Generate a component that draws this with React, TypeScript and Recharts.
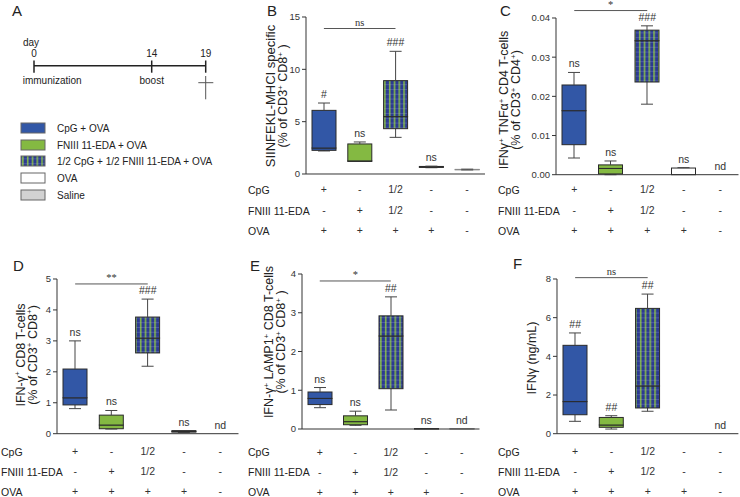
import React from 'react';
import { ComposedChart, Bar, Scatter, XAxis, YAxis, ReferenceLine } from 'recharts';

const FONT = "'Liberation Sans', Arial, sans-serif";

// groups along every x axis
const groups = ['g1', 'g2', 'g3', 'g4', 'g5'];
const cpgRow = ['+', '-', '1/2', '-', '-'];
const fnRow = ['-', '+', '1/2', '-', '-'];
const ovaRow = ['+', '+', '+', '+', '-'];

const legendLabels = ['CpG + OVA', 'FNIII 11-EDA + OVA', '1/2 CpG + 1/2 FNIII 11-EDA + OVA', 'OVA', 'Saline'];
const groupFills = ['#3257a6', '#84b942', 'url(#stripes)', '#ffffff', '#d2d2d2'];
const groupStrokes = ['#2a2a2a', '#2a2a2a', '#2a2a2a', '#2a2a2a', '#8a8a8a'];

// five-number summaries [min, q1, median, q3, max], null = nothing measured
const boxB = [[2.2, 2.26, 2.48, 6.08, 6.78], [1.2, 1.2, 1.25, 2.87, 3.06], [3.5, 4.33, 5.48, 8.92, 11.72], [0.6, 0.63, 0.67, 0.72, 0.75], [0.38, 0.4, 0.42, 0.44, 0.46]];
const annB = ['#', 'ns', '###', 'ns', ''];
const boxC = [[0.00426, 0.00766, 0.01634, 0.0229, 0.0261], [0, 0.0002, 0.0016, 0.0025, 0.0035], [0.018, 0.02366, 0.0342, 0.0369, 0.038], [0, 0, 0, 0.0017, 0.0018], null];
const annC = ['ns', 'ns', '###', 'ns', 'nd'];
const boxD = [[0.81, 0.93, 1.16, 2.09, 3.0], [0.15, 0.16, 0.28, 0.6, 0.75], [2.18, 2.61, 3.09, 3.77, 4.35], [0.04, 0.05, 0.07, 0.1, 0.1], null];
const annD = ['ns', 'ns', '###', 'ns', 'nd'];
const boxE = [[0.55, 0.63, 0.79, 0.955, 1.07], [0.095, 0.11, 0.19, 0.34, 0.46], [0.49, 1.04, 2.4, 2.92, 3.41], [0, 0, 0.005, 0.01, 0.01], [0, 0, 0.005, 0.01, 0.01]];
const annE = ['ns', 'ns', '##', 'ns', 'nd'];
const boxF = [[0.64, 0.98, 1.66, 4.57, 5.21], [0.24, 0.33, 0.45, 0.84, 0.93], [1.16, 1.33, 2.47, 6.48, 7.22], null, null];
const annF = ['##', '##', '##', '', 'nd'];

const ticksB = [0, 5, 10, 15];
const ticksC = [0, 0.01, 0.02, 0.03, 0.04];
const ticksD = [0, 1, 2, 3, 4, 5];
const ticksE = [0, 1, 2, 3, 4];
const ticksF = [0, 2, 4, 6, 8];

const topRows = [190, 211, 231];
const bottomRows = [452, 472, 492];

const Whisker = (end: 'top' | 'bottom') => (props: any) => {
  const { x, y, width, height } = props;
  if (height == null || !(height > 0.05)) return <g />;
  const cx = x + width / 2;
  const capY = end === 'top' ? y : y + height;
  return (
    <g>
      <line x1={cx} x2={cx} y1={y} y2={y + height} stroke="#444" strokeWidth={1} />
      <line x1={cx - 6} x2={cx + 6} y1={capY} y2={capY} stroke="#444" strokeWidth={1} />
    </g>
  );
};

const BoxPart = (props: any) => {
  const { x, y, width, height, payload } = props;
  if (height == null || !(height > 0)) return <g />;
  return <rect x={x} y={y} width={width} height={height} fill={payload.fill} stroke={payload.stroke} strokeWidth={1} />;
};

const AnnShape = (props: any) => {
  const { cx, cy, payload } = props;
  if (!payload.ann || cx == null || cy == null || isNaN(cy)) return <g />;
  return (
    <text x={cx} y={cy - 5} textAnchor="middle" fontSize={10.5} fill="#333" fontFamily={FONT}>
      {payload.ann}
    </text>
  );
};

function rich(str: string) {
  const parts = str.split('^+');
  const out: React.ReactNode[] = [];
  parts.forEach((p, i) => {
    out.push(<tspan key={'t' + i} dy={i > 0 ? 3.5 : 0}>{p}</tspan>);
    if (i < parts.length - 1) out.push(<tspan key={'s' + i} dy={-3.5} fontSize={8}>+</tspan>);
  });
  return out;
}

type PanelProps = {
  boxes: (number[] | null)[];
  ann: string[];
  domain: [number, number];
  ticks: number[];
  fmt?: (v: number) => string;
  plot: { l: number; r: number; t: number; b: number };
  rows: number[];
  bracket: { y: number; text: string };
};

function BoxPanel({ boxes, ann, domain, ticks, fmt, plot, rows, bracket }: PanelProps) {
  const yw = 40;
  const mt = 24;
  const mr = 4;
  const left = plot.l - yw;
  const top = plot.t - mt;
  const width = plot.r - left + mr;
  const bottomAbs = rows[2] + 9;
  const height = bottomAbs - top;
  const xh = bottomAbs - plot.b;
  const rowsRel = rows.map((r) => r - top);

  const data = groups.map((g, i) => {
    const s = boxes[i];
    const common = { g, ann: ann[i], fill: groupFills[i], stroke: groupStrokes[i] };
    if (!s) return { ...common, base: 0, wLo: 0, bLo: 0, bHi: 0, wHi: 0, annY: ann[i] ? 0 : null };
    return { ...common, base: s[0], wLo: s[1] - s[0], bLo: s[2] - s[1], bHi: s[3] - s[2], wHi: s[4] - s[3], annY: s[4] };
  });

  const RowTick = (props: any) => {
    const { x, payload } = props;
    const i = groups.indexOf(payload.value);
    return (
      <g>
        {[cpgRow, fnRow, ovaRow].map((r, k) => (
          <text key={k} x={x} y={rowsRel[k]} textAnchor="middle" dominantBaseline="central" fontSize={10.5} fill="#333" fontFamily={FONT}>
            {r[i]}
          </text>
        ))}
      </g>
    );
  };

  return (
    <div style={{ position: 'absolute', left, top, width, height }}>
      <ComposedChart width={width} height={height} data={data} margin={{ top: mt, right: mr, bottom: 0, left: 0 }}>
        <XAxis dataKey="g" type="category" interval={0} height={xh} tickLine={false} axisLine={{ stroke: '#333' }} tick={<RowTick />} />
        <YAxis
          type="number"
          domain={domain}
          ticks={ticks}
          width={yw}
          tickSize={4}
          tickLine={{ stroke: '#333' }}
          axisLine={{ stroke: '#333' }}
          tick={{ fontSize: 9.5, fill: '#333', fontFamily: FONT }}
          tickFormatter={fmt}
        />
        <Bar dataKey="base" stackId="box" barSize={24} fill="none" shape={() => <g />} isAnimationActive={false} />
        <Bar dataKey="wLo" stackId="box" barSize={24} shape={Whisker('bottom')} isAnimationActive={false} />
        <Bar dataKey="bLo" stackId="box" barSize={24} shape={BoxPart} isAnimationActive={false} />
        <Bar dataKey="bHi" stackId="box" barSize={24} shape={BoxPart} isAnimationActive={false} />
        <Bar dataKey="wHi" stackId="box" barSize={24} shape={Whisker('top')} isAnimationActive={false} />
        <Scatter dataKey="annY" shape={AnnShape} isAnimationActive={false} />
        <ReferenceLine
          segment={[{ x: 'g1', y: bracket.y }, { x: 'g3', y: bracket.y }]}
          stroke="#555"
          ifOverflow="visible"
          label={{ value: bracket.text, position: 'top', fontSize: 10.5, fill: '#333', offset: 3 }}
        />
      </ComposedChart>
    </div>
  );
}

const rowNames = ['CpG', 'FNIII 11-EDA', 'OVA'];

export default function App() {
  const txt = { fontFamily: FONT, fill: '#222' } as const;
  const rowLabels = (x: number, rows: number[]) =>
    rowNames.map((n, k) => (
      <text key={n + x + rows[k]} x={x} y={rows[k]} dominantBaseline="central" fontSize={10.5} {...txt}>
        {n}
      </text>
    ));
  const yTitle = (x: number, cy: number, s: string, fs = 12.5) => (
    <text x={x} y={cy} transform={`rotate(-90 ${x} ${cy})`} textAnchor="middle" dominantBaseline="middle" fontSize={fs} {...txt}>
      {rich(s)}
    </text>
  );
  const legendTops = [123, 140, 156, 173, 190];

  return (
    <div style={{ position: 'absolute', left: 0, top: 0, width: 740, height: 497, overflow: 'hidden', background: '#fff' }}>
      <BoxPanel boxes={boxB} ann={annB} domain={[0, 15]} ticks={ticksB} plot={{ l: 306, r: 485, t: 17.3, b: 174.3 }} rows={topRows} bracket={{ y: 13.9, text: 'ns' }} />
      <BoxPanel boxes={boxC} ann={annC} domain={[0, 0.04]} ticks={ticksC} fmt={(v) => v.toFixed(2)} plot={{ l: 556, r: 738.5, t: 18.3, b: 175 }} rows={topRows} bracket={{ y: 0.0419, text: '*' }} />
      <BoxPanel boxes={boxD} ann={annD} domain={[0, 5]} ticks={ticksD} plot={{ l: 56.5, r: 238, t: 279.3, b: 434 }} rows={bottomRows} bracket={{ y: 4.84, text: '**' }} />
      <BoxPanel boxes={boxE} ann={annE} domain={[0, 4]} ticks={ticksE} plot={{ l: 301.5, r: 479, t: 274, b: 429 }} rows={bottomRows} bracket={{ y: 3.82, text: '*' }} />
      <BoxPanel boxes={boxF} ann={annF} domain={[0, 8]} ticks={ticksF} plot={{ l: 556.6, r: 738, t: 279.3, b: 434 }} rows={bottomRows} bracket={{ y: 8.07, text: 'ns' }} />

      <svg width={740} height={497} style={{ position: 'absolute', left: 0, top: 0, pointerEvents: 'none' }}>
        <defs>
          <pattern id="stripes" patternUnits="userSpaceOnUse" width={4.8} height={4.8}>
            <rect x={0} y={0} width={4.8} height={4.8} fill="#2c3a92" />
            <rect x={3} y={0} width={1.4} height={4.8} fill="#8cc63f" />
            <rect x={0} y={0} width={4.8} height={0.7} fill="#aab0d8" opacity={0.35} />
          </pattern>
        </defs>

        {/* panel letters */}
        <text x={12} y={16} fontSize={15} {...txt}>A</text>
        <text x={267} y={16} fontSize={15} {...txt}>B</text>
        <text x={500} y={16} fontSize={15} {...txt}>C</text>
        <text x={13} y={271} fontSize={15} {...txt}>D</text>
        <text x={250} y={271} fontSize={15} {...txt}>E</text>
        <text x={513} y={269} fontSize={15} {...txt}>F</text>

        {/* timeline */}
        <text x={23} y={42} fontSize={10} dominantBaseline="central" {...txt}>day</text>
        <text x={34} y={53} fontSize={10} textAnchor="middle" dominantBaseline="central" {...txt}>0</text>
        <text x={151.7} y={53} fontSize={10} textAnchor="middle" dominantBaseline="central" {...txt}>14</text>
        <text x={205.7} y={53} fontSize={10} textAnchor="middle" dominantBaseline="central" {...txt}>19</text>
        <line x1={34} x2={205.7} y1={65.7} y2={65.7} stroke="#222" strokeWidth={1.5} />
        {[34, 151.7, 205.7].map((x) => (
          <line key={x} x1={x} x2={x} y1={60.5} y2={72.7} stroke="#222" strokeWidth={1.5} />
        ))}
        <text x={22.7} y={80} fontSize={10} dominantBaseline="central" {...txt}>immunization</text>
        <text x={151.7} y={80} fontSize={10} textAnchor="middle" dominantBaseline="central" {...txt}>boost</text>
        <line x1={205.7} x2={205.7} y1={76} y2={99.3} stroke="#555" strokeWidth={1} />
        <line x1={198.3} x2={213.3} y1={82.7} y2={82.7} stroke="#555" strokeWidth={1} />

        {/* legend */}
        {legendLabels.map((l, i) => (
          <g key={l}>
            <rect x={21} y={legendTops[i]} width={24} height={10} fill={groupFills[i]} stroke="#666" strokeWidth={1} />
            <text x={57} y={legendTops[i] + 5} fontSize={10} dominantBaseline="central" {...txt}>{l}</text>
          </g>
        ))}

        {/* row labels */}
        {rowLabels(248, topRows)}
        {rowLabels(498, topRows)}
        {rowLabels(1, bottomRows)}
        {rowLabels(248, bottomRows)}
        {rowLabels(498, bottomRows)}

        {/* y axis titles */}
        {yTitle(271.7, 96, 'SIINFEKL-MHCI specific', 13)}
        {yTitle(284, 96, '(% of CD3^+ CD8^+ )')}
        {yTitle(505, 100, 'IFNγ^+ TNFα^+ CD4 T-cells')}
        {yTitle(517, 100, '(% of CD3^+ CD4^+)')}
        {yTitle(21.7, 355, 'IFN-γ^+ CD8 T-cells')}
        {yTitle(33.5, 355, '(% of CD3^+ CD8^+)')}
        {yTitle(270, 342, 'IFN-γ^+ LAMP1^+ CD8 T-cells')}
        {yTitle(282, 342, '(% of CD3^+ CD8^+ )')}
        {yTitle(533, 358, 'IFNγ (ng/mL)')}
      </svg>
    </div>
  );
}
